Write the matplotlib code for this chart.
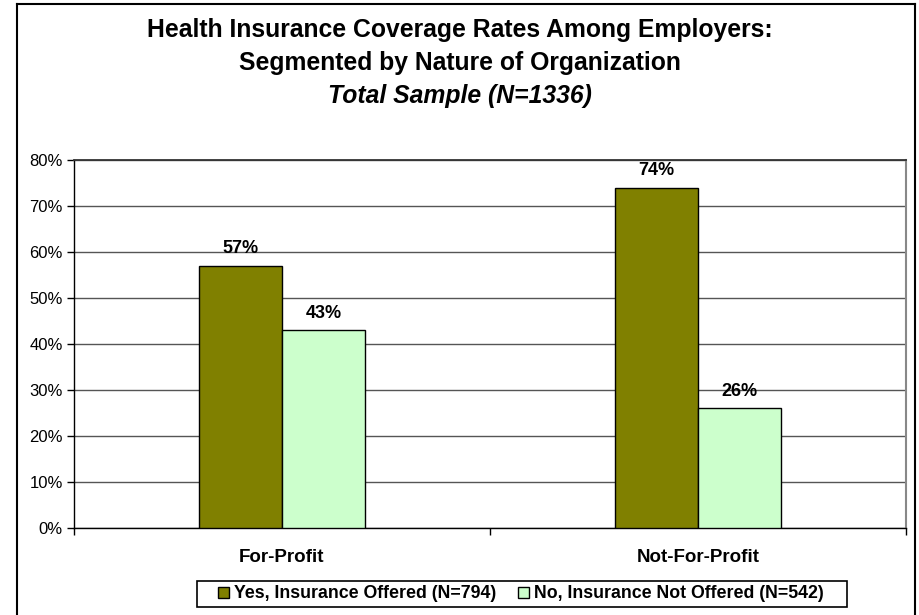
import matplotlib
matplotlib.use("Agg")
import matplotlib.pyplot as plt
from matplotlib.lines import Line2D
from matplotlib.patches import Rectangle
from matplotlib.ticker import FixedLocator
import numpy as np

plt.rcParams['font.family'] = ['Liberation Sans', 'DejaVu Sans']

categories = ["For-Profit", "Not-For-Profit"]
series_names = ["Yes, Insurance Offered (N=794)", "No, Insurance Not Offered (N=542)"]
yes_values = [57, 74]
no_values = [43, 26]
y_ticks = [0, 10, 20, 30, 40, 50, 60, 70, 80]
y_tick_labels = [f"{v}%" for v in y_ticks]

W, H = 920, 615
fig = plt.figure(figsize=(W / 100, H / 100), dpi=100)

# outer chart frame
fig.add_artist(Line2D([17 / W, 17 / W], [0, 1 - 4 / H], transform=fig.transFigure, color="black", lw=1.5))
fig.add_artist(Line2D([17 / W, 915 / W], [1 - 4 / H, 1 - 4 / H], transform=fig.transFigure, color="black", lw=1.5))
fig.add_artist(Line2D([915 / W, 915 / W], [0, 1 - 4 / H], transform=fig.transFigure, color="black", lw=1.5))

ax = fig.add_axes([74 / W, (H - 528) / H, (906 - 74) / W, (528 - 160) / H])

x = np.arange(len(categories))
bw = 0.2
ax.bar(x - bw / 2, yes_values, bw, color="#808000", edgecolor="black", linewidth=1, label=series_names[0], zorder=3)
ax.bar(x + bw / 2, no_values, bw, color="#CCFFCC", edgecolor="black", linewidth=1, label=series_names[1], zorder=3)

for xs, vals in ((x - bw / 2, yes_values), (x + bw / 2, no_values)):
    for xi, v in zip(xs, vals):
        ax.annotate(f"{v}%", (xi, v), xytext=(0, 6), textcoords="offset points",
                    ha="center", va="bottom", fontsize=13, fontweight="bold")

ax.set_xlim(-0.5, 1.5)
ax.set_ylim(0, 80)
ax.set_yticks(y_ticks)
ax.set_yticklabels(y_tick_labels, fontsize=12)
ax.yaxis.grid(True, color="#555555", linewidth=1, zorder=0)
ax.set_axisbelow(True)

ax.set_xticks(x)
ax.set_xticklabels(categories, fontsize=13.5, fontweight="bold")
ax.tick_params(axis="x", which="major", length=0, pad=15)
ax.xaxis.set_minor_locator(FixedLocator([-0.5, 0.5, 1.5]))
ax.tick_params(axis="x", which="minor", length=5, direction="out", width=1)
ax.tick_params(axis="y", length=5, direction="out", width=1, pad=3)

for s in ("left", "bottom"):
    ax.spines[s].set_color("black")
    ax.spines[s].set_linewidth(1)
ax.spines["top"].set_color("#333333")
ax.spines["top"].set_linewidth(1.3)
ax.spines["right"].set_color("#888888")
ax.spines["right"].set_linewidth(1.5)

fig.text(0.5, 1 - 30 / H, "Health Insurance Coverage Rates Among Employers:", ha="center", va="center",
         fontsize=17.8, fontweight="bold")
fig.text(0.5, 1 - 63 / H, "Segmented by Nature of Organization", ha="center", va="center",
         fontsize=17.8, fontweight="bold")
fig.text(0.5, 1 - 96 / H, "Total Sample (N=1336)", ha="center", va="center",
         fontsize=17.8, fontweight="bold", style="italic")

# legend box with wider side padding
fig.add_artist(Rectangle((197 / W, 1 - 607 / H), (847 - 197) / W, 26 / H, transform=fig.transFigure,
                         facecolor="white", edgecolor="black", linewidth=1.2, zorder=4))
leg = fig.legend(loc="center", bbox_to_anchor=(521 / W, 1 - 594 / H), ncol=2,
                 prop={"weight": "bold", "size": 12.8}, frameon=False,
                 handlelength=0.6, handleheight=0.6, handletextpad=0.3,
                 columnspacing=1.2, borderpad=0.3, borderaxespad=0)
leg.set_zorder(5)

fig.savefig("out.png", dpi=100)
